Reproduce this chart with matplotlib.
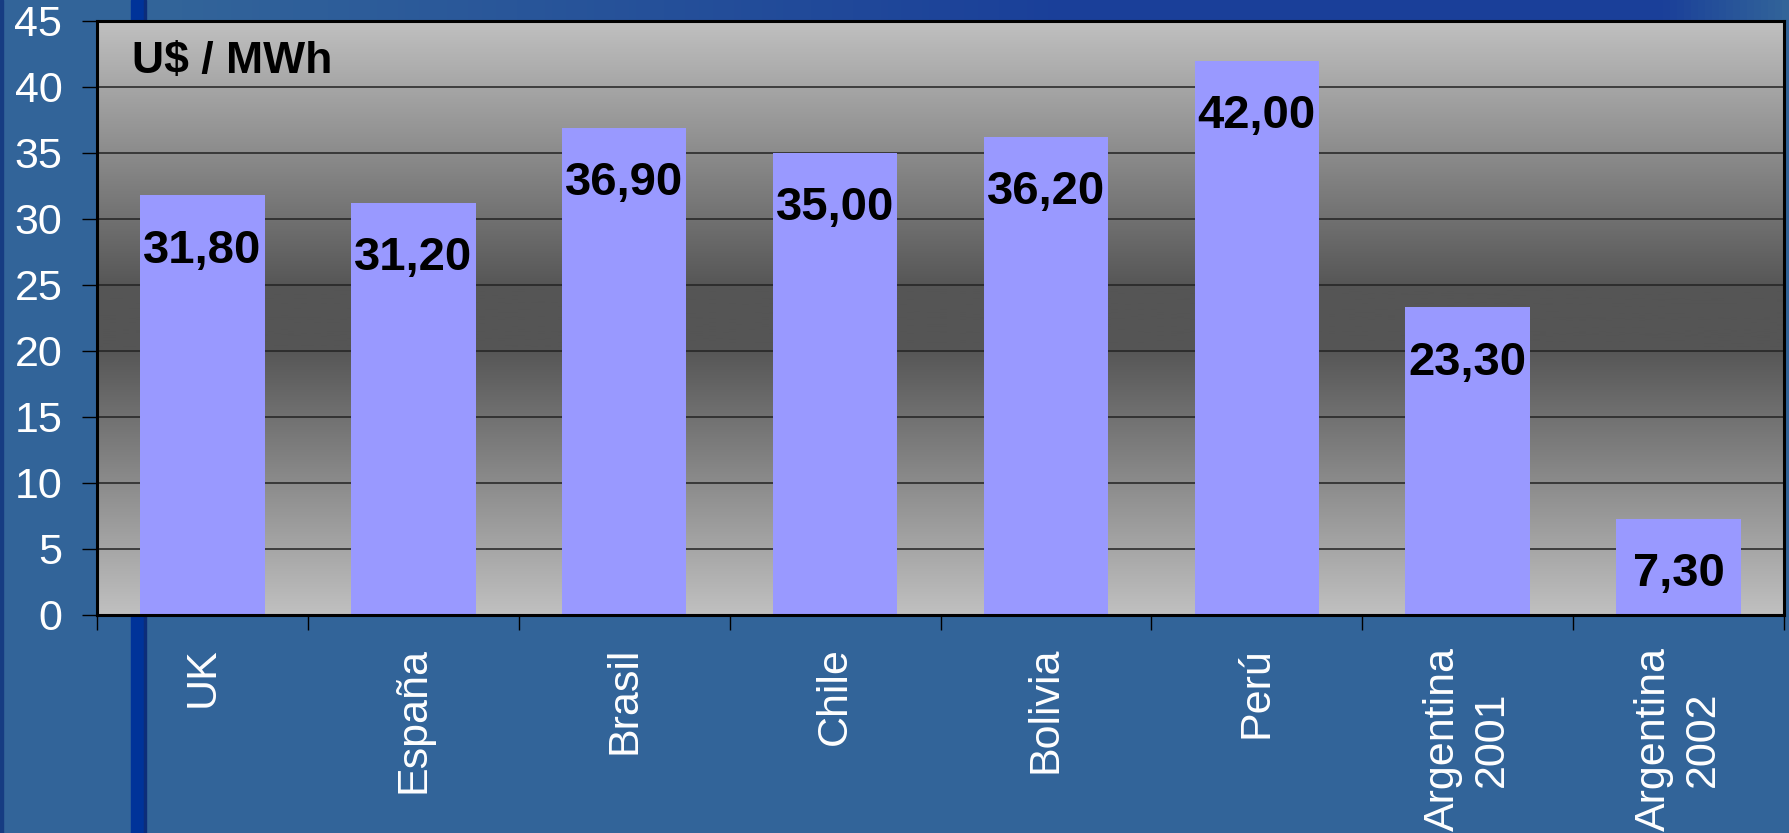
import numpy as np
import matplotlib
matplotlib.use("Agg")
import matplotlib.pyplot as plt
from matplotlib.colors import LinearSegmentedColormap
from matplotlib.patches import Rectangle

plt.rcParams['font.family'] = ['Liberation Sans', 'DejaVu Sans']

categories = ["UK", "España", "Brasil", "Chile", "Bolivia", "Perú",
              "Argentina\n2001", "Argentina\n2002"]
values = [31.80, 31.20, 36.90, 35.00, 36.20, 42.00, 23.30, 7.30]
yticks = [0, 5, 10, 15, 20, 25, 30, 35, 40, 45]
unit_label = "U$ / MWh"

W, H = 1789, 833
fig = plt.figure(figsize=(W / 100, H / 100), dpi=100)
fig.patch.set_facecolor("#326499")

# background decoration in pixel coords
bg = fig.add_axes([0, 0, 1, 1], zorder=-1)
bg.set_xlim(0, W)
bg.set_ylim(H, 0)
bg.axis("off")
band = LinearSegmentedColormap.from_list(
    "band", [(0, "#326499"), (0.1, "#326499"), (0.6, "#1a3f99"),
             (0.93, "#1a3f99"), (1.0, "#326499")])
bg.imshow(np.linspace(0, 1, 256)[None, :], cmap=band, aspect="auto",
          extent=(0, W, 20, 0), zorder=0)
bg.add_patch(Rectangle((131, 0), 13, H, color="#003399", zorder=1))
bg.add_patch(Rectangle((144, 0), 2, H, color="#0c2d7a", zorder=1))
bg.add_patch(Rectangle((0, 0), 3, H, color="#163c82", zorder=1))

ax = fig.add_axes([97 / W, 1 - 615 / H, (1784 - 97) / W, (615 - 21) / H])

# gray gradient plot area
grad = LinearSegmentedColormap.from_list(
    "grad", [(0, "#c0c0c0"), (0.45, "#555555"), (0.55, "#555555"),
             (1, "#c0c0c0")])
ax.imshow(np.linspace(0, 1, 256)[:, None], cmap=grad, aspect="auto",
          extent=(0, 1, 0, 1), transform=ax.transAxes, zorder=0)

x = np.arange(len(categories))
ax.bar(x, values, width=0.59, color="#9999ff", zorder=2)

for xi, v in zip(x, values):
    ax.annotate(f"{v:.2f}".replace(".", ","), (xi, v), xytext=(0, -24),
                textcoords="offset points", ha="center", va="top",
                fontsize=34, fontweight="bold", color="black", zorder=3)

ax.text(0.0207, 0.9125, unit_label, transform=ax.transAxes, fontsize=32,
        fontweight="bold", color="black", va="baseline", ha="left", zorder=3)

ax.set_xlim(-0.5, len(categories) - 0.5)
ax.set_ylim(0, 45)
ax.set_yticks(yticks)
ax.set_yticklabels([str(t) for t in yticks])
ax.yaxis.grid(True, color="#222222", linewidth=1.1, zorder=1)
ax.set_axisbelow(True)

ax.set_xticks(np.arange(len(categories) + 1) - 0.5)
ax.set_xticklabels([])
ax.set_xticks(x, minor=True)
ax.set_xticklabels(categories, minor=True, rotation=90, ha="center",
                   va="top", multialignment="center", linespacing=1.3)
ax.tick_params(axis="x", which="major", length=11, width=1, color="black")
ax.tick_params(axis="x", which="minor", length=0, pad=23, labelsize=31,
               labelcolor="white")
ax.tick_params(axis="y", length=11, width=1, color="black", pad=14,
               labelsize=31, labelcolor="white")

for s in ax.spines.values():
    s.set_color("black")
    s.set_linewidth(2.2)
    s.set_zorder(4)

fig.savefig("out.png", dpi=100, facecolor=fig.get_facecolor())
